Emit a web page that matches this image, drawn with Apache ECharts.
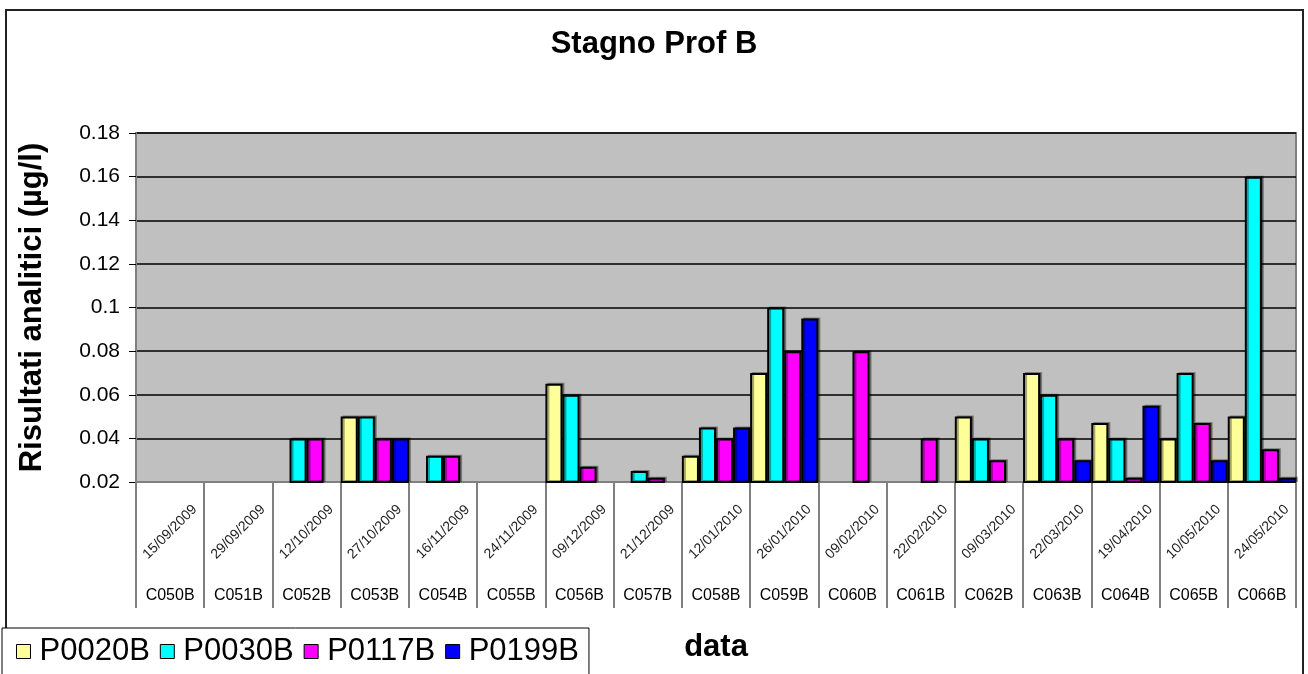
<!DOCTYPE html>
<html>
<head>
<meta charset="utf-8">
<title>Stagno Prof B</title>
<script src="https://cdn.jsdelivr.net/npm/echarts@6/dist/echarts.min.js"></script>
<style>
  html, body { margin: 0; padding: 0; background: #fff; }
  #chart { width: 1308px; height: 674px; }
</style>
</head>
<body>
<div id="chart"></div>
<script>
// campioni e date di prelievo
const campioni = ["C050B", "C051B", "C052B", "C053B", "C054B", "C055B", "C056B", "C057B", "C058B",
  "C059B", "C060B", "C061B", "C062B", "C063B", "C064B", "C065B", "C066B"];
const date = ["15/09/2009", "29/09/2009", "12/10/2009", "27/10/2009", "16/11/2009", "24/11/2009",
  "09/12/2009", "21/12/2009", "12/01/2010", "26/01/2010", "09/02/2010", "22/02/2010",
  "09/03/2010", "22/03/2010", "19/04/2010", "10/05/2010", "24/05/2010"];

// risultati (µg/l) per punto di prelievo
const p0020B = [null, null, null, 0.05, null, null, 0.065, null, 0.032, 0.07, null, null, 0.05, 0.07, 0.047, 0.04, 0.05];
const p0030B = [null, null, 0.04, 0.05, 0.032, null, 0.06, 0.025, 0.045, 0.1, null, null, 0.04, 0.06, 0.04, 0.07, 0.16];
const p0117B = [null, null, 0.04, 0.04, 0.032, null, 0.027, 0.022, 0.04, 0.08, 0.08, 0.04, 0.03, 0.04, 0.022, 0.047, 0.035];
const p0199B = [null, null, null, 0.04, null, null, null, null, 0.045, 0.095, null, null, null, 0.03, 0.055, 0.03, 0.022];

const font = "Liberation Sans, Arial, sans-serif";

function barSerie(name, data, color) {
  return {
    name: name,
    type: "bar",
    data: data,
    barGap: "0%",
    barCategoryGap: "0%",
    itemStyle: {
      color: color,
      borderColor: "#000",
      borderWidth: 2,
      shadowColor: "rgba(0,0,0,0.35)",
      shadowOffsetX: 2,
      shadowOffsetY: -1
    }
  };
}

const chart = echarts.init(document.getElementById("chart"));

const option = {
  backgroundColor: "#fff",
  animation: false,
  textStyle: { fontFamily: font, color: "#000" },
  title: {
    text: "Stagno Prof B",
    left: "center",
    top: 24,
    textStyle: { fontFamily: font, fontSize: 31, fontWeight: "bold", color: "#000" }
  },
  graphic: [
    {
      type: "rect",
      z: -10,
      shape: { x: 6, y: 10, width: 1297, height: 700 },
      style: { fill: "none", stroke: "#222", lineWidth: 2 }
    }
  ],
  legend: {
    left: 2,
    top: 628,
    orient: "horizontal",
    backgroundColor: "#fff",
    borderColor: "#000",
    borderWidth: 1,
    padding: [8, 10, 12, 14],
    itemWidth: 14,
    itemHeight: 14,
    itemGap: 10,
    icon: "rect",
    itemStyle: { borderColor: "#000", borderWidth: 1 },
    textStyle: { fontFamily: font, fontSize: 31, color: "#000", padding: [0, 0, 0, 4] },
    data: ["P0020B", "P0030B", "P0117B", "P0199B"]
  },
  grid: {
    left: 136,
    right: 12,
    top: 133,
    bottom: 192,
    show: true,
    backgroundColor: "#c0c0c0",
    borderColor: "#808080",
    borderWidth: 2,
    outerBoundsMode: "none"
  },
  xAxis: [
    {
      type: "category",
      data: campioni,
      position: "bottom",
      name: "data",
      nameLocation: "middle",
      nameGap: 150,
      nameTextStyle: { fontFamily: font, fontSize: 31, fontWeight: "bold", color: "#000" },
      axisLine: { lineStyle: { color: "#808080", width: 2 } },
      axisTick: { show: true, interval: 0, length: 126, lineStyle: { color: "#808080", width: 2 } },
      axisLabel: { interval: 0, fontSize: 16, margin: 106, color: "#000", fontFamily: font }
    },
    {
      type: "category",
      data: date,
      position: "bottom",
      axisLine: { show: false },
      axisTick: { show: false },
      axisLabel: {
        interval: 0,
        rotate: 45,
        align: "center",
        verticalAlign: "middle",
        margin: 50,
        fontSize: 14,
        color: "#222",
        fontFamily: font
      }
    }
  ],
  yAxis: {
    type: "value",
    min: 0.02,
    max: 0.18,
    interval: 0.02,
    name: "Risultati analitici (µg/l)",
    nameLocation: "middle",
    nameGap: 88,
    nameTextStyle: { fontFamily: font, fontSize: 31, fontWeight: "bold", color: "#000" },
    axisLine: { show: true, lineStyle: { color: "#808080", width: 2 } },
    axisTick: { show: true, length: 7, lineStyle: { color: "#000", width: 1 } },
    axisLabel: { fontSize: 21, margin: 16, color: "#000", fontFamily: font },
    splitLine: { show: true, lineStyle: { color: "#000", width: 1.5 } }
  },
  series: [
    barSerie("P0020B", p0020B, "#ffff99"),
    barSerie("P0030B", p0030B, "#00ffff"),
    barSerie("P0117B", p0117B, "#ff00ff"),
    barSerie("P0199B", p0199B, "#0000ff")
  ]
};

chart.setOption(option);
window.addEventListener("resize", () => chart.resize());
</script>
</body>
</html>
